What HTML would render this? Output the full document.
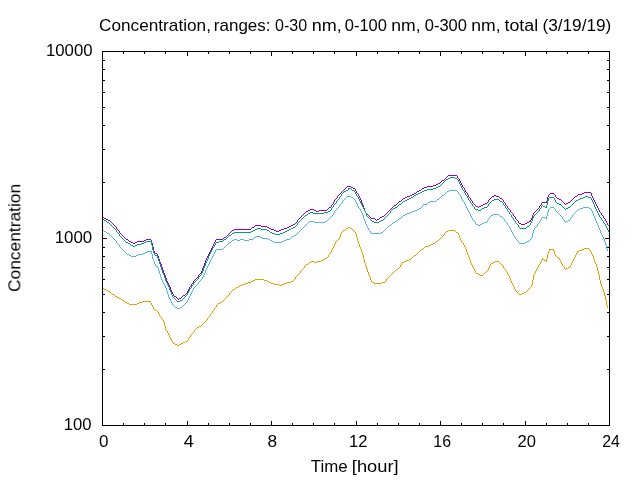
<!DOCTYPE html>
<html><head><meta charset="utf-8"><title>plot</title>
<style>
html,body{margin:0;padding:0;background:#fff;}
body{width:640px;height:480px;overflow:hidden;}
svg{display:block;}
text{font-family:"Liberation Sans",sans-serif;font-size:16px;fill:#000;}
</style></head><body>
<svg width="640" height="480" viewBox="0 0 640 480">
<rect x="0" y="0" width="640" height="480" fill="#ffffff"/>
<g style="opacity:0.999">
<text transform="translate(99.06,30.75) scale(1.0752,1)">Concentration,</text>
<text transform="translate(213.80,30.75) scale(1.0640,1)">ranges:</text>
<text transform="translate(274.97,30.75) scale(1.0049,1)">0-30</text>
<text transform="translate(311.83,30.75) scale(1.1254,1)">nm,</text>
<text transform="translate(344.76,30.75) scale(1.0309,1)">0-100</text>
<text transform="translate(391.26,30.75) scale(1.0984,1)">nm,</text>
<text transform="translate(424.76,30.75) scale(1.0309,1)">0-300</text>
<text transform="translate(471.26,30.75) scale(1.0984,1)">nm,</text>
<text transform="translate(504.47,30.75) scale(1.1134,1)">total</text>
<text transform="translate(542.42,30.75) scale(1.0766,1)">(3/19/19)</text>
<text transform="translate(20.30,291.95) rotate(-90) scale(1.0854,1)">Concentration</text>
<text transform="translate(310.86,471.80) scale(1.0524,1)">Time</text>
<text transform="translate(351.81,471.80) scale(1.1430,1)">[hour]</text>
<text transform="translate(98.94,446.80) scale(1.0623,1)">0</text>
<text transform="translate(183.68,446.80) scale(1.1250,1)">4</text>
<text transform="translate(267.59,446.80) scale(1.0800,1)">8</text>
<text transform="translate(349.01,446.80) scale(1.0349,1)">12</text>
<text transform="translate(433.36,446.80) scale(0.9953,1)">16</text>
<text transform="translate(517.62,446.80) scale(1.0382,1)">20</text>
<text transform="translate(602.16,446.80) scale(0.9925,1)">24</text>
<text transform="translate(45.94,55.60) scale(1.0475,1)">10000</text>
<text transform="translate(54.69,242.70) scale(1.0519,1)">1000</text>
<text transform="translate(63.70,429.60) scale(1.0412,1)">100</text>
</g>
<g shape-rendering="crispEdges" stroke="none">
<path fill="#9400d3" d="M102 217h2v1h-2zM104 218h2v1h-2zM106 219h2v1h-2zM108 220h2v1h-2zM110 221h1v1h-1zM111 222h1v1h-1zM112 223h1v1h-1zM113 224h1v1h-1zM114 225h1v1h-1zM115 226h1v1h-1zM116 227h1v2h-1zM117 229h1v1h-1zM118 230h1v1h-1zM119 231h1v2h-1zM120 233h1v1h-1zM121 234h1v1h-1zM122 235h1v1h-1zM123 236h1v1h-1zM124 237h1v1h-1zM125 238h1v1h-1zM126 239h2v1h-2zM128 240h1v1h-1zM129 241h2v1h-2zM131 242h2v1h-2zM133 243h2v1h-2zM135 242h2v1h-2zM137 241h7v1h-7zM144 240h2v1h-2zM146 239h5v1h-5zM151 240h1v3h-1zM152 243h1v4h-1zM153 247h1v4h-1zM154 251h1v2h-1zM155 253h2v1h-2zM157 254h1v2h-1zM158 256h1v3h-1zM159 259h1v3h-1zM160 262h1v2h-1zM161 264h1v3h-1zM162 267h1v3h-1zM163 270h1v3h-1zM164 273h1v2h-1zM165 275h1v3h-1zM166 278h1v3h-1zM167 281h1v2h-1zM168 283h1v2h-1zM169 285h1v2h-1zM170 287h1v3h-1zM171 290h1v2h-1zM172 292h1v2h-1zM173 294h1v2h-1zM174 296h2v1h-2zM176 297h1v1h-1zM177 298h1v1h-1zM178 299h1v1h-1zM179 298h2v1h-2zM181 297h1v1h-1zM182 296h1v1h-1zM183 295h2v1h-2zM185 294h1v1h-1zM186 293h1v1h-1zM187 291h1v2h-1zM188 289h1v2h-1zM189 287h1v2h-1zM190 286h1v1h-1zM191 284h1v2h-1zM192 283h1v1h-1zM193 281h1v2h-1zM194 280h1v1h-1zM195 279h1v1h-1zM196 278h1v1h-1zM197 277h1v1h-1zM198 275h1v2h-1zM199 274h1v1h-1zM200 273h1v1h-1zM201 271h1v2h-1zM202 268h1v3h-1zM203 266h1v2h-1zM204 263h1v3h-1zM205 260h1v3h-1zM206 258h1v2h-1zM207 256h1v2h-1zM208 254h1v2h-1zM209 252h1v2h-1zM210 250h1v2h-1zM211 248h1v2h-1zM212 246h1v2h-1zM213 244h1v2h-1zM214 242h1v2h-1zM215 240h1v2h-1zM216 239h7v1h-7zM223 238h1v1h-1zM224 237h2v1h-2zM226 236h1v1h-1zM227 235h1v1h-1zM228 234h1v1h-1zM229 233h1v1h-1zM230 232h1v1h-1zM231 231h1v1h-1zM232 230h2v1h-2zM234 229h17v1h-17zM251 228h1v1h-1zM252 227h2v1h-2zM254 226h1v1h-1zM255 225h6v1h-6zM261 226h6v1h-6zM267 227h2v1h-2zM269 228h2v1h-2zM271 229h3v1h-3zM274 230h2v1h-2zM276 231h3v1h-3zM279 230h2v1h-2zM281 229h3v1h-3zM284 228h3v1h-3zM287 227h2v1h-2zM289 226h2v1h-2zM291 225h2v1h-2zM293 224h2v1h-2zM295 223h1v1h-1zM296 222h1v1h-1zM297 220h1v2h-1zM298 219h1v1h-1zM299 218h1v1h-1zM300 217h1v1h-1zM301 216h1v1h-1zM302 215h1v1h-1zM303 214h1v1h-1zM304 213h1v1h-1zM305 212h1v1h-1zM306 211h2v1h-2zM308 210h2v1h-2zM310 209h4v1h-4zM314 210h2v1h-2zM316 211h3v1h-3zM319 210h8v1h-8zM327 209h1v1h-1zM328 208h1v1h-1zM329 207h2v1h-2zM331 205h1v2h-1zM332 204h1v1h-1zM333 202h1v2h-1zM334 200h1v2h-1zM335 199h1v1h-1zM336 198h1v1h-1zM337 196h1v2h-1zM338 195h1v1h-1zM339 194h1v1h-1zM340 193h1v1h-1zM341 192h1v1h-1zM342 191h1v1h-1zM343 190h1v1h-1zM344 189h1v1h-1zM345 188h1v1h-1zM346 187h1v1h-1zM347 186h4v1h-4zM351 187h2v1h-2zM353 188h2v1h-2zM355 189h1v2h-1zM356 191h1v2h-1zM357 193h1v1h-1zM358 194h1v2h-1zM359 196h1v2h-1zM360 198h1v2h-1zM361 200h1v3h-1zM362 203h1v2h-1zM363 205h1v3h-1zM364 208h1v3h-1zM365 211h1v2h-1zM366 213h1v1h-1zM367 214h1v1h-1zM368 215h1v1h-1zM369 216h1v1h-1zM370 217h1v1h-1zM371 218h4v1h-4zM375 219h1v1h-1zM376 220h1v1h-1zM377 219h2v1h-2zM379 218h1v1h-1zM380 217h2v1h-2zM382 216h2v1h-2zM384 215h1v1h-1zM385 214h1v1h-1zM386 213h1v1h-1zM387 212h1v1h-1zM388 211h1v1h-1zM389 210h1v1h-1zM390 209h1v1h-1zM391 208h1v1h-1zM392 207h1v1h-1zM393 206h1v1h-1zM394 205h2v1h-2zM396 204h1v1h-1zM397 203h1v1h-1zM398 202h1v1h-1zM399 201h2v1h-2zM401 200h1v1h-1zM402 199h1v1h-1zM403 198h2v1h-2zM405 197h2v1h-2zM407 196h3v1h-3zM410 195h2v1h-2zM412 194h2v1h-2zM414 193h2v1h-2zM416 192h1v1h-1zM417 191h2v1h-2zM419 190h2v1h-2zM421 189h1v1h-1zM422 188h2v1h-2zM424 187h3v1h-3zM427 186h6v1h-6zM433 185h3v1h-3zM436 184h2v1h-2zM438 183h2v1h-2zM440 182h1v1h-1zM441 181h1v1h-1zM442 180h2v1h-2zM444 179h1v1h-1zM445 178h1v1h-1zM446 177h1v1h-1zM447 176h1v1h-1zM448 175h9v1h-9zM457 176h1v2h-1zM458 178h1v1h-1zM459 179h1v2h-1zM460 181h1v2h-1zM461 183h1v2h-1zM462 185h1v2h-1zM463 187h1v1h-1zM464 188h1v2h-1zM465 190h1v2h-1zM466 192h1v1h-1zM467 193h1v2h-1zM468 195h1v2h-1zM469 197h1v1h-1zM470 198h1v2h-1zM471 200h1v1h-1zM472 201h1v2h-1zM473 203h1v1h-1zM474 204h1v1h-1zM475 205h1v1h-1zM476 206h2v1h-2zM478 207h1v1h-1zM479 206h2v1h-2zM481 205h2v1h-2zM483 204h2v1h-2zM485 203h2v1h-2zM487 202h1v1h-1zM488 200h1v2h-1zM489 199h1v1h-1zM490 198h1v1h-1zM491 197h1v1h-1zM492 196h2v1h-2zM494 195h2v1h-2zM496 196h3v1h-3zM499 197h1v1h-1zM500 198h2v1h-2zM502 199h1v1h-1zM503 200h1v2h-1zM504 202h1v1h-1zM505 203h1v2h-1zM506 205h1v1h-1zM507 206h1v2h-1zM508 208h1v1h-1zM509 209h1v1h-1zM510 210h1v2h-1zM511 212h1v1h-1zM512 213h1v1h-1zM513 214h1v2h-1zM514 216h1v1h-1zM515 217h1v2h-1zM516 219h1v1h-1zM517 220h1v1h-1zM518 221h1v2h-1zM519 223h2v1h-2zM521 224h4v1h-4zM525 223h2v1h-2zM527 222h2v1h-2zM529 221h2v1h-2zM530 220h1v1h-1zM531 218h1v2h-1zM532 215h1v3h-1zM533 213h1v2h-1zM534 212h1v1h-1zM535 211h1v1h-1zM536 210h1v1h-1zM537 209h1v1h-1zM538 208h1v1h-1zM539 206h1v2h-1zM540 205h1v1h-1zM541 203h1v2h-1zM542 202h5v1h-5zM546 201h1v1h-1zM547 197h1v4h-1zM548 195h1v2h-1zM549 194h1v1h-1zM550 193h4v1h-4zM554 194h1v1h-1zM555 195h1v2h-1zM556 197h1v1h-1zM557 198h2v1h-2zM559 199h2v1h-2zM561 200h1v1h-1zM562 201h1v1h-1zM563 202h1v1h-1zM564 203h1v1h-1zM565 204h1v1h-1zM566 203h2v1h-2zM568 202h2v1h-2zM570 201h1v1h-1zM571 200h1v1h-1zM572 199h1v1h-1zM573 198h1v1h-1zM574 197h1v1h-1zM575 196h2v1h-2zM577 195h1v1h-1zM578 194h4v1h-4zM582 193h2v1h-2zM584 192h7v1h-7zM591 193h1v3h-1zM592 196h1v2h-1zM593 198h1v2h-1zM594 200h1v2h-1zM595 202h1v2h-1zM596 204h1v2h-1zM597 206h1v2h-1zM598 208h1v2h-1zM599 210h1v2h-1zM600 212h1v1h-1zM601 213h1v2h-1zM602 215h1v1h-1zM603 216h1v2h-1zM604 218h1v1h-1zM605 219h1v2h-1zM606 221h1v2h-1zM607 223h1v2h-1zM608 225h1v1h-1z"/>
<path fill="#009e73" d="M102 219h2v1h-2zM104 220h2v1h-2zM106 221h1v1h-1zM107 222h2v1h-2zM109 223h1v1h-1zM110 224h1v1h-1zM111 225h1v1h-1zM112 226h1v1h-1zM113 227h1v1h-1zM114 228h1v1h-1zM115 229h1v1h-1zM116 230h1v2h-1zM117 232h1v1h-1zM118 233h1v1h-1zM119 234h1v2h-1zM120 236h1v1h-1zM121 237h1v1h-1zM122 238h1v1h-1zM123 239h1v1h-1zM124 240h1v1h-1zM125 241h1v1h-1zM126 242h2v1h-2zM128 243h2v1h-2zM130 244h1v1h-1zM131 245h2v1h-2zM133 246h2v1h-2zM135 245h2v1h-2zM137 244h4v1h-4zM141 243h3v1h-3zM144 242h2v1h-2zM146 241h6v1h-6zM151 242h1v3h-1zM152 245h1v5h-1zM153 250h1v3h-1zM154 253h1v2h-1zM155 255h2v1h-2zM157 256h1v2h-1zM158 258h1v3h-1zM159 261h1v3h-1zM160 264h1v3h-1zM161 267h1v3h-1zM162 270h1v3h-1zM163 273h1v2h-1zM164 275h1v3h-1zM165 278h1v3h-1zM166 281h1v2h-1zM167 283h1v2h-1zM168 285h1v2h-1zM169 287h1v3h-1zM170 290h1v2h-1zM171 292h1v3h-1zM172 295h1v2h-1zM173 297h1v1h-1zM174 298h1v1h-1zM175 299h1v1h-1zM176 300h1v1h-1zM177 301h3v1h-3zM180 300h2v1h-2zM182 299h1v1h-1zM183 298h1v1h-1zM184 297h1v1h-1zM185 296h1v1h-1zM186 295h1v1h-1zM187 293h1v2h-1zM188 291h1v2h-1zM189 289h1v2h-1zM190 288h1v1h-1zM191 286h1v2h-1zM192 285h1v1h-1zM193 283h1v2h-1zM194 282h1v1h-1zM195 281h1v1h-1zM196 280h1v1h-1zM197 279h1v1h-1zM198 277h1v2h-1zM199 276h1v1h-1zM200 275h1v1h-1zM201 273h1v2h-1zM202 271h1v2h-1zM203 268h1v3h-1zM204 266h1v2h-1zM205 263h1v3h-1zM206 261h1v2h-1zM207 259h1v2h-1zM208 256h1v3h-1zM209 254h1v2h-1zM210 252h1v2h-1zM211 250h1v2h-1zM212 248h1v2h-1zM213 247h1v1h-1zM214 245h1v2h-1zM215 243h1v2h-1zM216 242h3v1h-3zM219 241h4v1h-4zM223 240h1v1h-1zM224 239h2v1h-2zM226 238h1v1h-1zM227 237h1v1h-1zM228 236h1v1h-1zM229 235h2v1h-2zM231 234h1v1h-1zM232 233h2v1h-2zM234 232h17v1h-17zM251 231h2v1h-2zM253 230h2v1h-2zM255 229h2v1h-2zM257 228h4v1h-4zM261 229h6v1h-6zM267 230h2v1h-2zM269 231h1v1h-1zM270 232h2v1h-2zM272 233h3v1h-3zM275 234h5v1h-5zM280 233h3v1h-3zM283 232h2v1h-2zM285 231h2v1h-2zM287 230h2v1h-2zM289 229h2v1h-2zM291 228h2v1h-2zM293 227h2v1h-2zM295 226h1v1h-1zM296 225h1v1h-1zM297 223h1v2h-1zM298 222h1v1h-1zM299 221h1v1h-1zM300 220h1v1h-1zM301 219h1v1h-1zM302 218h1v1h-1zM303 217h1v1h-1zM304 216h1v1h-1zM305 215h2v1h-2zM307 214h1v1h-1zM308 213h2v1h-2zM310 212h3v1h-3zM313 213h11v1h-11zM324 212h4v1h-4zM328 211h2v1h-2zM330 210h1v1h-1zM331 208h1v2h-1zM332 207h1v1h-1zM333 205h1v2h-1zM334 204h1v1h-1zM335 203h1v1h-1zM336 201h1v2h-1zM337 200h1v1h-1zM338 199h1v1h-1zM339 197h1v2h-1zM340 196h1v1h-1zM341 194h1v2h-1zM342 193h1v1h-1zM343 192h1v1h-1zM344 191h2v1h-2zM346 190h2v1h-2zM348 188h3v1h-3zM348 189h1v1h-1zM351 189h1v1h-1zM352 190h2v1h-2zM354 191h1v1h-1zM355 192h1v2h-1zM356 194h1v2h-1zM357 196h1v1h-1zM358 197h1v2h-1zM359 199h1v2h-1zM360 201h1v2h-1zM361 203h1v2h-1zM362 205h1v2h-1zM363 207h1v2h-1zM364 209h1v2h-1zM365 211h1v2h-1zM366 213h1v3h-1zM367 216h1v1h-1zM368 217h1v1h-1zM369 218h1v1h-1zM370 219h1v1h-1zM371 220h1v1h-1zM372 221h2v1h-2zM374 222h5v1h-5zM379 221h2v1h-2zM381 220h2v1h-2zM383 219h1v1h-1zM384 218h1v1h-1zM385 217h1v1h-1zM386 216h1v1h-1zM387 215h1v1h-1zM388 214h1v1h-1zM389 213h1v1h-1zM390 211h1v2h-1zM391 210h1v1h-1zM392 209h1v1h-1zM393 208h2v1h-2zM395 207h2v1h-2zM397 206h1v1h-1zM398 205h1v1h-1zM399 204h2v1h-2zM401 203h1v1h-1zM402 202h1v1h-1zM403 201h2v1h-2zM405 200h2v1h-2zM407 199h2v1h-2zM409 198h2v1h-2zM411 197h2v1h-2zM413 196h1v1h-1zM414 195h2v1h-2zM416 194h2v1h-2zM418 193h2v1h-2zM420 192h2v1h-2zM422 191h2v1h-2zM424 190h3v1h-3zM427 189h6v1h-6zM433 188h3v1h-3zM436 187h2v1h-2zM438 186h2v1h-2zM440 185h1v1h-1zM441 184h1v1h-1zM442 183h1v1h-1zM443 182h1v1h-1zM444 181h1v1h-1zM445 180h1v1h-1zM446 179h2v1h-2zM448 178h2v1h-2zM450 177h5v1h-5zM455 178h2v1h-2zM457 179h1v1h-1zM458 180h1v2h-1zM459 182h1v2h-1zM460 184h1v2h-1zM461 186h1v2h-1zM462 188h1v2h-1zM463 190h1v1h-1zM464 191h1v2h-1zM465 193h1v2h-1zM466 195h1v1h-1zM467 196h1v2h-1zM468 198h1v2h-1zM469 200h1v1h-1zM470 201h1v2h-1zM471 203h1v1h-1zM472 204h1v2h-1zM473 206h1v1h-1zM474 207h1v2h-1zM475 209h3v1h-3zM478 210h3v1h-3zM481 209h1v1h-1zM482 208h2v1h-2zM484 207h3v1h-3zM487 206h1v1h-1zM488 204h1v2h-1zM489 203h1v1h-1zM490 202h1v1h-1zM491 201h1v1h-1zM492 200h2v1h-2zM494 199h5v1h-5zM499 200h1v1h-1zM500 201h2v1h-2zM502 202h1v1h-1zM503 203h1v2h-1zM504 205h1v1h-1zM505 206h1v2h-1zM506 208h1v1h-1zM507 209h1v2h-1zM508 211h1v1h-1zM509 212h1v2h-1zM510 214h1v1h-1zM511 215h1v2h-1zM512 217h1v1h-1zM513 218h1v2h-1zM514 220h1v1h-1zM515 221h1v2h-1zM516 223h1v1h-1zM517 224h1v1h-1zM518 225h1v2h-1zM519 227h1v1h-1zM520 228h6v1h-6zM526 227h1v1h-1zM527 226h2v1h-2zM529 225h1v1h-1zM530 223h1v2h-1zM531 221h1v2h-1zM532 218h1v3h-1zM533 216h1v2h-1zM534 215h1v1h-1zM535 214h1v1h-1zM536 213h1v1h-1zM537 212h1v1h-1zM538 211h1v1h-1zM539 209h1v2h-1zM540 208h1v1h-1zM541 206h1v2h-1zM542 205h1v1h-1zM543 206h2v1h-2zM545 207h2v1h-2zM546 205h1v2h-1zM547 201h1v4h-1zM548 198h1v3h-1zM549 197h5v1h-5zM554 198h1v2h-1zM555 200h1v2h-1zM556 202h1v1h-1zM557 203h2v1h-2zM559 204h2v1h-2zM561 205h1v1h-1zM562 206h1v1h-1zM563 207h1v1h-1zM564 208h1v1h-1zM565 209h1v1h-1zM566 208h2v1h-2zM568 207h2v1h-2zM570 206h1v1h-1zM571 205h1v1h-1zM572 204h1v1h-1zM573 203h1v1h-1zM574 202h1v1h-1zM575 201h1v1h-1zM576 200h2v1h-2zM578 199h2v1h-2zM580 198h3v1h-3zM583 197h2v1h-2zM585 196h3v1h-3zM588 197h3v1h-3zM591 198h1v2h-1zM592 200h1v2h-1zM593 202h1v2h-1zM594 204h1v3h-1zM595 207h1v2h-1zM596 209h1v2h-1zM597 211h1v2h-1zM598 213h1v2h-1zM599 215h1v2h-1zM600 217h1v1h-1zM601 218h1v2h-1zM602 220h1v1h-1zM603 221h1v2h-1zM604 223h1v1h-1zM605 224h1v2h-1zM606 226h1v2h-1zM607 228h1v2h-1zM608 230h1v2h-1z"/>
<path fill="#56b4e9" d="M102 230h2v1h-2zM104 231h2v1h-2zM106 232h1v1h-1zM107 233h2v1h-2zM109 234h1v1h-1zM110 235h1v1h-1zM111 236h1v1h-1zM112 237h1v1h-1zM113 238h1v1h-1zM114 239h1v1h-1zM115 240h1v1h-1zM116 241h1v2h-1zM117 243h1v1h-1zM118 244h1v1h-1zM119 245h1v2h-1zM120 247h1v1h-1zM121 248h1v1h-1zM122 249h1v1h-1zM123 250h1v1h-1zM124 251h1v1h-1zM125 252h1v1h-1zM126 253h1v1h-1zM127 254h2v1h-2zM129 255h2v1h-2zM131 256h5v1h-5zM136 255h2v1h-2zM138 254h5v1h-5zM143 253h2v1h-2zM145 252h2v1h-2zM147 251h5v1h-5zM151 252h1v2h-1zM152 254h1v5h-1zM153 259h1v2h-1zM154 261h1v3h-1zM155 264h1v2h-1zM156 266h2v1h-2zM157 267h1v1h-1zM158 268h1v3h-1zM159 271h1v3h-1zM160 274h1v3h-1zM161 277h1v3h-1zM162 280h1v2h-1zM163 282h1v2h-1zM164 284h1v2h-1zM165 286h1v2h-1zM166 288h1v3h-1zM167 291h1v3h-1zM168 294h1v3h-1zM169 297h1v2h-1zM170 299h1v2h-1zM171 301h1v2h-1zM172 303h1v2h-1zM173 305h1v1h-1zM174 306h1v1h-1zM175 307h2v1h-2zM177 308h3v1h-3zM180 307h2v1h-2zM182 306h1v1h-1zM183 305h1v1h-1zM184 304h1v1h-1zM185 303h1v1h-1zM186 302h1v1h-1zM187 300h1v2h-1zM188 298h1v2h-1zM189 296h1v2h-1zM190 294h1v2h-1zM191 292h1v2h-1zM192 290h1v2h-1zM193 288h1v2h-1zM194 287h1v1h-1zM195 286h1v1h-1zM196 285h1v1h-1zM197 284h1v1h-1zM198 282h1v2h-1zM199 281h1v1h-1zM200 280h1v1h-1zM201 279h1v1h-1zM202 277h1v2h-1zM203 275h1v2h-1zM204 273h1v2h-1zM205 270h1v3h-1zM206 268h1v2h-1zM207 266h1v2h-1zM208 264h1v2h-1zM209 262h1v2h-1zM210 260h1v2h-1zM211 258h1v2h-1zM212 256h1v2h-1zM213 254h1v2h-1zM214 252h1v2h-1zM215 250h1v2h-1zM216 249h7v1h-7zM223 248h1v1h-1zM224 247h1v1h-1zM225 246h1v1h-1zM226 245h1v1h-1zM227 244h1v1h-1zM228 243h1v1h-1zM229 242h2v1h-2zM231 241h1v1h-1zM232 240h2v1h-2zM234 239h3v1h-3zM237 240h3v1h-3zM240 239h4v1h-4zM244 240h5v1h-5zM249 239h4v1h-4zM253 238h1v1h-1zM254 237h2v1h-2zM256 236h4v1h-4zM260 237h2v1h-2zM262 238h6v1h-6zM268 239h2v1h-2zM270 240h2v1h-2zM272 241h2v1h-2zM274 242h8v1h-8zM282 241h2v1h-2zM284 240h2v1h-2zM286 239h4v1h-4zM290 238h1v1h-1zM291 237h1v1h-1zM292 236h2v1h-2zM294 235h2v1h-2zM296 234h1v1h-1zM297 233h1v1h-1zM298 232h1v1h-1zM299 231h1v1h-1zM300 230h1v1h-1zM301 229h1v1h-1zM302 228h1v1h-1zM303 227h1v1h-1zM304 226h1v1h-1zM305 225h1v1h-1zM306 224h1v1h-1zM307 223h1v1h-1zM308 222h1v1h-1zM309 221h5v1h-5zM314 222h11v1h-11zM325 221h2v1h-2zM327 220h1v1h-1zM328 219h1v1h-1zM329 218h1v1h-1zM330 217h1v1h-1zM331 216h1v1h-1zM332 215h1v1h-1zM333 213h1v2h-1zM334 211h1v2h-1zM335 210h1v1h-1zM336 209h1v1h-1zM337 208h1v1h-1zM338 207h1v1h-1zM339 205h1v2h-1zM340 204h1v1h-1zM341 203h1v1h-1zM342 201h1v2h-1zM343 200h1v1h-1zM344 199h1v1h-1zM345 198h1v1h-1zM346 197h1v1h-1zM347 196h4v1h-4zM351 197h2v1h-2zM353 198h1v1h-1zM354 199h1v1h-1zM355 200h1v2h-1zM356 202h1v2h-1zM357 204h1v2h-1zM358 206h1v2h-1zM359 208h1v1h-1zM360 209h1v2h-1zM361 211h1v2h-1zM362 213h1v2h-1zM363 215h1v4h-1zM364 219h1v2h-1zM365 221h1v3h-1zM366 224h1v2h-1zM367 226h1v2h-1zM368 228h1v2h-1zM369 230h1v1h-1zM370 231h1v2h-1zM371 233h10v1h-10zM381 232h2v1h-2zM383 231h1v1h-1zM384 230h1v1h-1zM385 229h1v1h-1zM386 228h1v1h-1zM387 227h1v1h-1zM388 226h1v1h-1zM389 225h2v1h-2zM391 224h1v1h-1zM392 223h1v1h-1zM393 222h2v1h-2zM395 221h2v1h-2zM397 220h1v1h-1zM398 219h1v1h-1zM399 218h2v1h-2zM401 217h1v1h-1zM402 216h1v1h-1zM403 215h2v1h-2zM405 214h2v1h-2zM407 213h3v1h-3zM410 212h2v1h-2zM412 211h3v1h-3zM415 210h2v1h-2zM417 209h2v1h-2zM419 208h2v1h-2zM421 207h1v1h-1zM422 205h1v2h-1zM423 204h4v1h-4zM427 203h1v1h-1zM428 202h2v1h-2zM430 201h6v1h-6zM436 200h1v1h-1zM437 199h2v1h-2zM439 198h1v1h-1zM440 197h1v1h-1zM441 196h1v1h-1zM442 195h2v1h-2zM444 194h1v1h-1zM445 193h1v1h-1zM446 192h1v1h-1zM447 191h2v1h-2zM449 190h8v1h-8zM457 191h1v1h-1zM458 192h1v2h-1zM459 194h1v1h-1zM460 195h1v2h-1zM461 197h1v2h-1zM462 199h1v2h-1zM463 201h1v1h-1zM464 202h1v2h-1zM465 204h1v2h-1zM466 206h1v2h-1zM467 208h1v2h-1zM468 210h1v2h-1zM469 212h1v2h-1zM470 214h1v2h-1zM471 216h1v2h-1zM472 218h1v2h-1zM473 220h1v1h-1zM474 221h1v1h-1zM475 222h1v2h-1zM476 224h2v1h-2zM478 225h2v1h-2zM480 224h2v1h-2zM482 223h2v1h-2zM484 222h3v1h-3zM487 220h1v2h-1zM488 219h1v1h-1zM489 217h1v2h-1zM490 216h1v1h-1zM491 215h2v1h-2zM493 214h6v1h-6zM499 215h1v1h-1zM500 216h2v1h-2zM502 217h1v1h-1zM503 218h1v1h-1zM504 219h1v2h-1zM505 221h1v1h-1zM506 222h1v1h-1zM507 223h1v2h-1zM508 225h1v1h-1zM509 226h1v2h-1zM510 228h1v2h-1zM511 230h1v2h-1zM512 232h1v2h-1zM513 234h1v2h-1zM514 236h1v1h-1zM515 237h1v2h-1zM516 239h1v1h-1zM517 240h1v1h-1zM518 241h1v2h-1zM519 243h6v1h-6zM525 242h2v1h-2zM527 241h2v1h-2zM529 240h1v1h-1zM530 239h1v1h-1zM531 237h1v2h-1zM532 233h1v4h-1zM533 230h1v3h-1zM534 228h1v2h-1zM535 227h1v1h-1zM536 226h1v1h-1zM537 224h1v2h-1zM538 223h1v1h-1zM539 221h1v2h-1zM540 220h1v1h-1zM541 218h1v2h-1zM542 217h3v1h-3zM545 218h2v1h-2zM546 216h1v2h-1zM547 212h1v4h-1zM548 209h1v3h-1zM549 208h1v1h-1zM550 207h4v1h-4zM554 208h1v1h-1zM555 209h1v2h-1zM556 211h1v1h-1zM557 212h1v1h-1zM558 213h1v1h-1zM559 214h1v1h-1zM560 215h1v1h-1zM561 216h1v1h-1zM562 217h1v2h-1zM563 219h1v1h-1zM564 220h1v2h-1zM565 222h1v1h-1zM566 221h2v1h-2zM568 220h2v1h-2zM570 218h1v2h-1zM571 217h1v1h-1zM572 215h1v2h-1zM573 214h1v1h-1zM574 213h1v1h-1zM575 212h1v1h-1zM576 211h1v1h-1zM577 210h1v1h-1zM578 209h2v1h-2zM580 208h3v1h-3zM583 207h6v1h-6zM589 208h2v1h-2zM591 209h1v2h-1zM592 211h1v2h-1zM593 213h1v3h-1zM594 216h1v2h-1zM595 218h1v3h-1zM596 221h1v2h-1zM597 223h1v2h-1zM598 225h1v3h-1zM599 228h1v2h-1zM600 230h1v3h-1zM601 233h1v2h-1zM602 235h1v2h-1zM603 237h1v2h-1zM604 239h1v3h-1zM605 242h1v3h-1zM606 245h1v4h-1zM607 249h1v2h-1z"/>
<path fill="#e69f00" d="M102 288h2v1h-2zM104 289h2v1h-2zM106 290h2v1h-2zM108 291h2v1h-2zM110 292h1v1h-1zM111 293h1v1h-1zM112 294h2v1h-2zM114 295h1v1h-1zM115 296h2v1h-2zM117 297h2v1h-2zM119 298h2v1h-2zM121 299h1v1h-1zM122 300h2v1h-2zM124 301h1v1h-1zM125 302h2v1h-2zM127 303h2v1h-2zM129 304h8v1h-8zM137 303h2v1h-2zM139 302h3v1h-3zM142 301h9v1h-9zM150 302h1v1h-1zM151 303h1v2h-1zM152 305h1v2h-1zM153 307h1v2h-1zM154 309h1v1h-1zM155 310h2v1h-2zM157 311h1v1h-1zM158 312h1v2h-1zM159 314h1v2h-1zM160 316h1v1h-1zM161 317h1v2h-1zM162 319h1v1h-1zM163 320h1v2h-1zM164 322h1v4h-1zM165 326h1v4h-1zM166 330h1v1h-1zM167 331h1v2h-1zM168 333h1v2h-1zM169 335h1v2h-1zM170 337h1v2h-1zM171 339h1v2h-1zM172 341h1v2h-1zM173 343h2v1h-2zM175 344h2v1h-2zM177 345h2v1h-2zM179 344h2v1h-2zM181 343h2v1h-2zM183 342h2v1h-2zM185 341h2v1h-2zM187 340h1v1h-1zM188 338h1v2h-1zM189 337h1v1h-1zM190 335h1v2h-1zM191 334h1v1h-1zM192 333h1v1h-1zM193 332h1v1h-1zM194 330h1v2h-1zM195 329h1v1h-1zM196 328h1v1h-1zM197 327h2v1h-2zM199 326h2v1h-2zM201 325h1v1h-1zM202 324h1v1h-1zM203 323h1v1h-1zM204 322h1v1h-1zM205 321h1v1h-1zM206 320h1v1h-1zM207 318h1v2h-1zM208 317h1v1h-1zM209 316h1v1h-1zM210 314h1v2h-1zM211 313h1v1h-1zM212 311h1v2h-1zM213 310h1v1h-1zM214 308h1v2h-1zM215 307h1v1h-1zM216 305h1v2h-1zM217 304h1v1h-1zM218 303h2v1h-2zM220 302h2v1h-2zM222 301h1v1h-1zM223 300h1v1h-1zM224 299h1v1h-1zM225 298h1v1h-1zM226 297h1v1h-1zM227 296h1v1h-1zM228 295h1v1h-1zM229 293h1v2h-1zM230 292h1v1h-1zM231 291h1v1h-1zM232 290h1v1h-1zM233 289h2v1h-2zM235 288h1v1h-1zM236 287h2v1h-2zM238 286h2v1h-2zM240 285h2v1h-2zM242 284h3v1h-3zM245 283h3v1h-3zM248 282h3v1h-3zM251 281h2v1h-2zM253 280h2v1h-2zM255 279h9v1h-9zM264 280h3v1h-3zM267 281h2v1h-2zM269 282h2v1h-2zM271 283h3v1h-3zM274 284h5v1h-5zM279 285h3v1h-3zM282 284h2v1h-2zM284 283h3v1h-3zM287 282h4v1h-4zM291 281h2v1h-2zM293 280h1v1h-1zM294 279h1v1h-1zM295 277h1v2h-1zM296 276h1v1h-1zM297 275h1v1h-1zM298 274h1v1h-1zM299 273h1v1h-1zM300 271h1v2h-1zM301 270h1v1h-1zM302 269h1v1h-1zM303 268h1v1h-1zM304 266h1v2h-1zM305 265h1v1h-1zM306 264h2v1h-2zM308 263h1v1h-1zM309 262h2v1h-2zM311 261h3v1h-3zM314 262h3v1h-3zM317 261h4v1h-4zM321 260h2v1h-2zM323 259h2v1h-2zM325 258h2v1h-2zM327 257h1v1h-1zM328 255h1v2h-1zM329 254h1v1h-1zM330 252h1v2h-1zM331 250h1v2h-1zM332 248h1v2h-1zM333 246h1v2h-1zM334 244h1v2h-1zM335 242h1v2h-1zM336 241h1v1h-1zM337 240h1v1h-1zM338 239h1v1h-1zM339 237h1v2h-1zM340 234h1v3h-1zM341 232h1v2h-1zM342 231h1v1h-1zM343 230h2v1h-2zM345 229h1v1h-1zM346 228h2v1h-2zM348 227h2v1h-2zM350 228h2v1h-2zM352 229h1v1h-1zM353 230h1v1h-1zM354 231h1v1h-1zM355 232h1v2h-1zM356 234h1v3h-1zM357 237h1v4h-1zM358 241h1v3h-1zM359 244h1v3h-1zM360 247h1v2h-1zM361 249h1v3h-1zM362 252h1v3h-1zM363 255h1v4h-1zM364 259h1v4h-1zM365 263h1v3h-1zM366 266h1v3h-1zM367 269h1v3h-1zM368 272h1v3h-1zM369 275h1v2h-1zM370 277h1v3h-1zM371 280h1v2h-1zM372 282h2v1h-2zM374 283h8v1h-8zM382 282h3v1h-3zM385 281h1v1h-1zM386 279h1v2h-1zM387 278h1v1h-1zM388 277h1v1h-1zM389 276h1v1h-1zM390 275h1v1h-1zM391 274h1v1h-1zM392 273h1v1h-1zM393 272h1v1h-1zM394 271h1v1h-1zM395 270h1v1h-1zM396 269h2v1h-2zM398 268h1v1h-1zM399 267h1v1h-1zM400 265h1v2h-1zM401 263h1v2h-1zM402 262h2v1h-2zM404 261h2v1h-2zM406 260h3v1h-3zM409 259h2v1h-2zM411 258h1v1h-1zM412 257h1v1h-1zM413 256h1v1h-1zM414 255h2v1h-2zM416 254h1v1h-1zM417 253h1v1h-1zM418 252h1v1h-1zM419 251h1v1h-1zM420 250h1v1h-1zM421 249h2v1h-2zM423 248h1v1h-1zM424 247h1v1h-1zM425 246h4v1h-4zM429 245h2v1h-2zM431 244h2v1h-2zM433 243h2v1h-2zM435 242h1v1h-1zM436 241h2v1h-2zM438 240h1v1h-1zM439 239h1v1h-1zM440 238h1v1h-1zM441 237h1v1h-1zM442 236h1v1h-1zM443 235h1v1h-1zM444 233h1v2h-1zM445 232h1v1h-1zM446 231h2v1h-2zM448 230h7v1h-7zM455 231h1v1h-1zM456 232h2v1h-2zM458 233h1v2h-1zM459 235h1v3h-1zM460 238h1v2h-1zM461 240h1v2h-1zM462 242h1v1h-1zM463 243h1v2h-1zM464 245h1v2h-1zM465 247h1v2h-1zM466 249h1v3h-1zM467 252h1v3h-1zM468 255h1v2h-1zM469 257h1v3h-1zM470 260h1v3h-1zM471 263h1v2h-1zM472 265h1v2h-1zM473 267h1v2h-1zM474 269h1v2h-1zM475 271h1v2h-1zM476 273h2v1h-2zM478 274h2v1h-2zM480 275h3v1h-3zM483 274h1v1h-1zM484 273h1v1h-1zM485 272h1v1h-1zM486 271h1v1h-1zM487 270h1v1h-1zM488 268h1v2h-1zM489 266h1v2h-1zM490 264h1v2h-1zM491 263h2v1h-2zM493 262h2v1h-2zM495 261h4v1h-4zM499 262h1v1h-1zM500 263h1v1h-1zM501 264h1v1h-1zM502 265h1v1h-1zM503 266h1v2h-1zM504 268h1v1h-1zM505 269h1v2h-1zM506 271h1v1h-1zM507 272h1v2h-1zM508 274h1v2h-1zM509 276h1v2h-1zM510 278h1v3h-1zM511 281h1v2h-1zM512 283h1v2h-1zM513 285h1v2h-1zM514 287h1v2h-1zM515 289h1v2h-1zM516 291h1v1h-1zM517 292h1v1h-1zM518 293h1v1h-1zM519 294h3v1h-3zM522 293h2v1h-2zM524 292h2v1h-2zM526 291h1v1h-1zM527 290h1v1h-1zM528 289h1v1h-1zM529 288h1v1h-1zM530 287h1v1h-1zM531 285h1v2h-1zM532 280h1v5h-1zM533 275h1v5h-1zM534 273h1v2h-1zM535 271h1v2h-1zM536 269h1v2h-1zM537 267h1v2h-1zM538 265h1v2h-1zM539 264h1v1h-1zM540 262h1v2h-1zM541 260h1v2h-1zM542 258h1v1h-1zM542 259h2v1h-2zM544 260h3v1h-3zM546 259h1v1h-1zM546 261h1v1h-1zM547 254h1v5h-1zM548 251h1v3h-1zM549 249h5v1h-5zM549 250h1v1h-1zM553 250h1v1h-1zM554 251h1v3h-1zM555 254h1v2h-1zM556 256h1v1h-1zM557 257h2v1h-2zM559 258h1v2h-1zM560 260h1v2h-1zM561 262h1v2h-1zM562 264h1v2h-1zM563 266h1v1h-1zM564 267h1v2h-1zM565 269h1v1h-1zM566 268h2v1h-2zM568 267h2v1h-2zM570 265h1v2h-1zM571 263h1v2h-1zM572 261h1v2h-1zM573 259h1v2h-1zM574 257h1v2h-1zM575 255h1v2h-1zM576 253h1v2h-1zM577 251h2v1h-2zM577 252h1v1h-1zM579 250h3v1h-3zM582 249h2v1h-2zM584 248h5v1h-5zM589 249h1v1h-1zM590 250h1v2h-1zM591 252h1v2h-1zM592 254h1v2h-1zM593 256h1v3h-1zM594 259h1v3h-1zM595 262h1v2h-1zM596 264h1v3h-1zM597 267h1v4h-1zM598 271h1v4h-1zM599 275h1v5h-1zM600 280h1v4h-1zM601 284h1v3h-1zM602 287h1v2h-1zM603 289h1v3h-1zM604 292h1v4h-1zM605 296h1v4h-1zM606 300h1v5h-1zM607 305h1v3h-1z"/>
<path fill="#000" d="M102 51h508v1h-508zM102 425h508v1h-508zM102 51h1v375h-1zM609 51h1v375h-1zM123 423h1v2h-1zM123 52h1v2h-1zM144 423h1v2h-1zM144 52h1v2h-1zM165 423h1v2h-1zM165 52h1v2h-1zM187 421h1v4h-1zM187 52h1v4h-1zM208 423h1v2h-1zM208 52h1v2h-1zM229 423h1v2h-1zM229 52h1v2h-1zM250 423h1v2h-1zM250 52h1v2h-1zM271 421h1v4h-1zM271 52h1v4h-1zM292 423h1v2h-1zM292 52h1v2h-1zM313 423h1v2h-1zM313 52h1v2h-1zM334 423h1v2h-1zM334 52h1v2h-1zM356 421h1v4h-1zM356 52h1v4h-1zM377 423h1v2h-1zM377 52h1v2h-1zM398 423h1v2h-1zM398 52h1v2h-1zM419 423h1v2h-1zM419 52h1v2h-1zM440 421h1v4h-1zM440 52h1v4h-1zM461 423h1v2h-1zM461 52h1v2h-1zM482 423h1v2h-1zM482 52h1v2h-1zM503 423h1v2h-1zM503 52h1v2h-1zM525 421h1v4h-1zM525 52h1v4h-1zM546 423h1v2h-1zM546 52h1v2h-1zM567 423h1v2h-1zM567 52h1v2h-1zM588 423h1v2h-1zM588 52h1v2h-1zM103 425h4v1h-4zM605 425h4v1h-4zM103 369h2v1h-2zM607 369h2v1h-2zM103 336h2v1h-2zM607 336h2v1h-2zM103 312h2v1h-2zM607 312h2v1h-2zM103 294h2v1h-2zM607 294h2v1h-2zM103 279h2v1h-2zM607 279h2v1h-2zM103 267h2v1h-2zM607 267h2v1h-2zM103 256h2v1h-2zM607 256h2v1h-2zM103 247h2v1h-2zM607 247h2v1h-2zM103 238h4v1h-4zM605 238h4v1h-4zM103 182h2v1h-2zM607 182h2v1h-2zM103 149h2v1h-2zM607 149h2v1h-2zM103 125h2v1h-2zM607 125h2v1h-2zM103 107h2v1h-2zM607 107h2v1h-2zM103 92h2v1h-2zM607 92h2v1h-2zM103 80h2v1h-2zM607 80h2v1h-2zM103 69h2v1h-2zM607 69h2v1h-2zM103 60h2v1h-2zM607 60h2v1h-2zM103 51h4v1h-4zM605 51h4v1h-4z"/>
</g>
</svg>
</body></html>
